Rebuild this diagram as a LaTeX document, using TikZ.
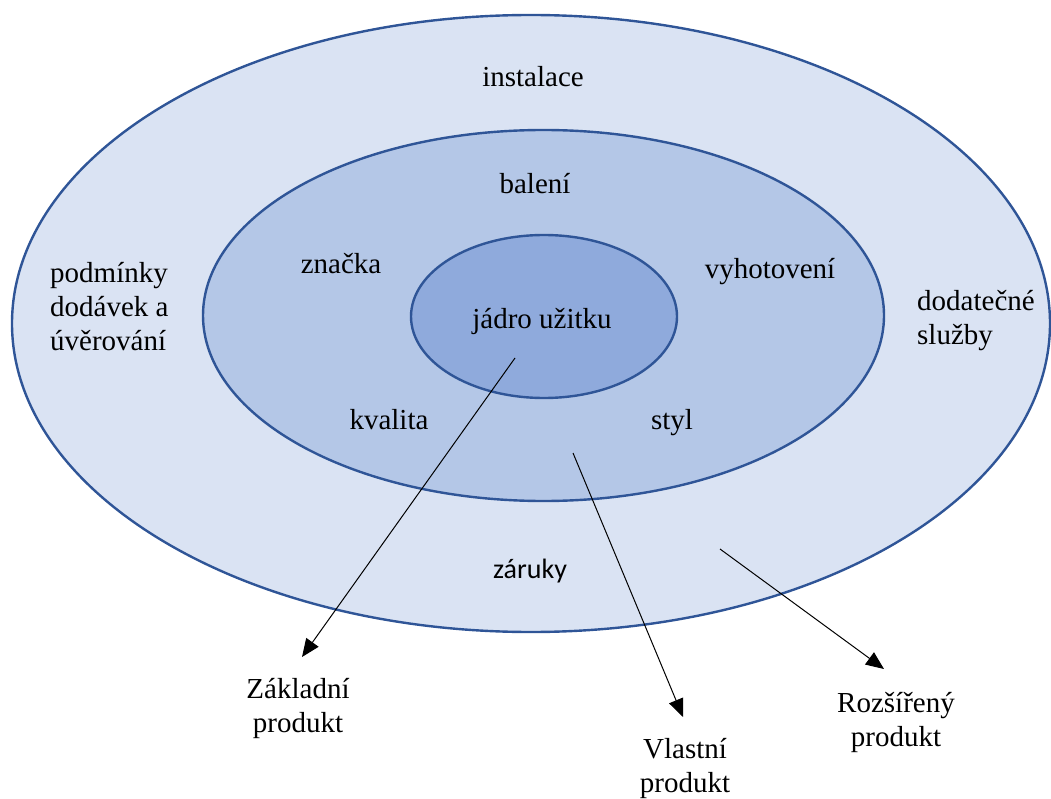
\documentclass[tikz,border=0pt]{standalone}
\usepackage{fontspec}
\setmainfont{Liberation Serif}
\newfontfamily\calibrifont{Carlito}
\newfontfamily\timesfont{Liberation Serif}
\usetikzlibrary{arrows.meta}
\definecolor{outerfill}{HTML}{DAE3F3}
\definecolor{midfill}{HTML}{B4C7E7}
\definecolor{innerfill}{HTML}{8FAADC}
\definecolor{ringline}{HTML}{2F5597}
\begin{document}
\begin{tikzpicture}[x=1pt,y=-1pt,
  ring/.style={draw=ringline, line width=2.4pt},
  lbl/.style={font=\timesfont\fontsize{29}{34}\selectfont, inner sep=0pt, anchor=base},
  multi/.style={font=\timesfont\fontsize{29}{34}\selectfont, inner sep=0pt, anchor=base west},
  arr/.style={draw=black, line width=1pt, -{Triangle[length=18pt,width=15pt]}}]
\useasboundingbox (0,0) rectangle (1051,799);
% rings
\filldraw[ring, fill=outerfill] (531,323.5) ellipse [x radius=519pt, y radius=308.5pt];
\filldraw[ring, fill=midfill] (543.5,315.5) ellipse [x radius=340.5pt, y radius=185.5pt];
\filldraw[ring, fill=innerfill] (544,316.5) ellipse [x radius=133pt, y radius=81.5pt];
% labels
\node[lbl] (instalace) at (533,87) {instalace};
\node[lbl] (baleni) at (535,194) {balení};
\node[lbl] (znacka) at (341,274) {značka};
\node[lbl] (vyhotoveni) at (770,279) {vyhotovení};
\node[lbl] (jadro) at (542,328) {jádro užitku};
\node[lbl] (kvalita) at (389,429) {kvalita};
\node[lbl] (styl) at (672,429) {styl};
\node[lbl, font=\calibrifont\fontsize{28}{34}\selectfont] (zaruky) at (530,578) {záruky};
\node[multi] (podminky) at (50,283) {\begin{tabular}[t]{@{}l@{}}podmínky\\dodávek a\\úvěrování\end{tabular}};
\node[multi] (sluzby) at (917,310) {\begin{tabular}[t]{@{}l@{}}dodatečné\\služby\end{tabular}};
\node[lbl] (zakladni) at (298,698) {\begin{tabular}[t]{@{}c@{}}Základní\\produkt\end{tabular}};
\node[lbl] (vlastni) at (685,758) {\begin{tabular}[t]{@{}c@{}}Vlastní\\produkt\end{tabular}};
\node[lbl] (rozsireny) at (896,712) {\begin{tabular}[t]{@{}c@{}}Rozšířený\\produkt\end{tabular}};
% arrows
\coordinate (a1s) at (515,358);
\coordinate (a1e) at (302,657);
\coordinate (a2s) at (573,453);
\coordinate (a2e) at (683,717);
\coordinate (a3s) at (720,549);
\coordinate (a3e) at (884,669);
\draw[arr] (a1s) -- (a1e);
\draw[arr] (a2s) -- (a2e);
\draw[arr] (a3s) -- (a3e);
\end{tikzpicture}
\end{document}
